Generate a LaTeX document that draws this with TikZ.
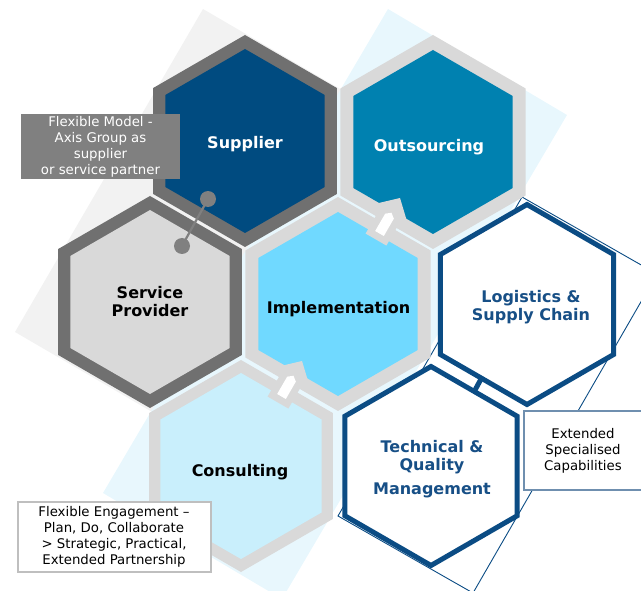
\documentclass[tikz,border=0pt]{standalone}
\usepackage{fontspec}
\setmainfont{DejaVu Sans}
\definecolor{graybg}{HTML}{F2F2F2}
\definecolor{bluebg}{HTML}{E8F7FD}
\definecolor{darkborder}{HTML}{707070}
\definecolor{lightborder}{HTML}{D9D9D9}
\definecolor{supblue}{HTML}{004B80}
\definecolor{outblue}{HTML}{0081B0}
\definecolor{impblue}{HTML}{70D9FF}
\definecolor{conblue}{HTML}{C9EFFC}
\definecolor{navy}{HTML}{0B4C84}
\definecolor{navytext}{HTML}{174F86}
\definecolor{labelgray}{HTML}{808080}
\definecolor{boxgray}{HTML}{BFBFBF}
\definecolor{steel}{HTML}{6F8FAF}
\newcommand\hexpath[3]{({#1},{#2-#3}) -- ++({0.8660254*#3},{0.5*#3}) -- ++(0,{#3}) -- ++({-0.8660254*#3},{0.5*#3}) -- ++({-0.8660254*#3},{-0.5*#3}) -- ++(0,{-#3}) -- cycle}
% block arrow: tip (#1,#2); local u along (0.5,-0.866), v along (0.866,0.5)
\newcommand\arrpt[4]{({#1+0.5*#3+0.8660254*#4},{#2-0.8660254*#3+0.5*#4})}
\begin{document}
\begin{tikzpicture}[x=1pt,y=-1pt,
  hexlabel/.style={font=\bfseries\fontsize{16}{18.5}\selectfont, align=center, inner sep=0pt},
  smalllabel/.style={font=\fontsize{13.3}{16}\selectfont, align=center, inner sep=0pt},
  dotnode/.style={circle, fill=labelgray, minimum size=16pt, inner sep=0pt},
  graybox/.style={smalllabel, fill=labelgray, text=white, minimum width=159pt, minimum height=65pt},
  whitebox/.style={smalllabel, fill=white, draw=boxgray, line width=2pt, minimum width=193pt, minimum height=70pt},
  extbox/.style={smalllabel, fill=white, draw=steel, line width=1.3pt, minimum width=118pt, minimum height=79pt},
  outline hex/.style={fill=white, draw=navy, line width=5pt, line join=miter}
]
\useasboundingbox (0,0) rectangle (641,591);
\clip (0,0) rectangle (641,591);
% backgrounds
\fill[graybg] (203,9) -- (462,160) -- (274,483) -- (15,332) -- cycle;
\fill[bluebg] (388,9) -- (567,115) -- (282,599) -- (103,493) -- cycle;
\draw[navy, line width=0.9pt] (522,197) -- (657,274) -- (473,593) -- (338,516) -- cycle;
% filled hexagons
\fill[darkborder] \hexpath{245}{141}{106};
\fill[supblue] \hexpath{245}{141}{92};
\fill[lightborder] \hexpath{433}{142}{107};
\fill[outblue] \hexpath{433}{142}{92};
\fill[darkborder] \hexpath{150}{302}{106};
\fill[lightborder] \hexpath{150}{302}{92};
\fill[lightborder] \hexpath{338}{304}{107};
\fill[impblue] \hexpath{338}{304}{92};
\fill[lightborder] \hexpath{241}{466}{106};
\fill[conblue] \hexpath{241}{466}{93};
% outlined hexagons
\draw[outline hex] \hexpath{527}{304.5}{100};
\draw[outline hex] \hexpath{431}{466}{99.5};
\draw[navy, line width=5pt] (480.5,380) -- (474.5,391);
% block arrows
\fill[lightborder] \arrpt{400}{198}{0}{0} -- \arrpt{400}{198}{-16}{17} -- \arrpt{400}{198}{-16}{12} -- \arrpt{400}{198}{-48}{12} -- \arrpt{400}{198}{-48}{-12} -- \arrpt{400}{198}{-16}{-12} -- \arrpt{400}{198}{-16}{-17} -- cycle;
\fill[white] \arrpt{400}{198}{-17}{0} -- \arrpt{400}{198}{-21}{5} -- \arrpt{400}{198}{-41}{5} -- \arrpt{400}{198}{-41}{-5} -- \arrpt{400}{198}{-21}{-5} -- cycle;
\fill[lightborder] \arrpt{302}{361}{0}{0} -- \arrpt{302}{361}{-16}{17} -- \arrpt{302}{361}{-16}{12} -- \arrpt{302}{361}{-48}{12} -- \arrpt{302}{361}{-48}{-12} -- \arrpt{302}{361}{-16}{-12} -- \arrpt{302}{361}{-16}{-17} -- cycle;
\fill[white] \arrpt{302}{361}{-17}{0} -- \arrpt{302}{361}{-21}{5} -- \arrpt{302}{361}{-41}{5} -- \arrpt{302}{361}{-41}{-5} -- \arrpt{302}{361}{-21}{-5} -- cycle;
% hexagon labels
\node[hexlabel, text=white] (supplier) at (245,144) {Supplier};
\node[hexlabel, text=white] (outsourcing) at (429,147) {Outsourcing};
\node[hexlabel, text=black] (provider) at (150,301.5) {Service\\Provider};
\node[hexlabel, text=black] (implementation) at (338.5,309) {Implementation};
\node[hexlabel, text=navytext] (logistics) at (531,307) {Logistics \&\\Supply Chain};
\node[hexlabel, text=navytext] (technical) at (432,469) {Technical \&\\Quality\\[5pt]Management};
\node[hexlabel, text=black] (consulting) at (240,472.5) {Consulting};
% annotation boxes
\node[graybox] (flexmodel) at (100.5,146.5) {Flexible Model -\\Axis Group as\\supplier\\or service partner};
\node[whitebox] (flexeng) at (114,536.5) {Flexible Engagement –\\Plan, Do, Collaborate\\> Strategic, Practical,\\Extended Partnership};
\node[extbox] (extended) at (583,450.5) {Extended\\Specialised\\Capabilities};
% connector
\node[dotnode] (dotA) at (208,199) {};
\node[dotnode] (dotB) at (182,246) {};
\draw[labelgray, line width=2.2pt] (dotA.center) -- (dotB.center);
\end{tikzpicture}
\end{document}
